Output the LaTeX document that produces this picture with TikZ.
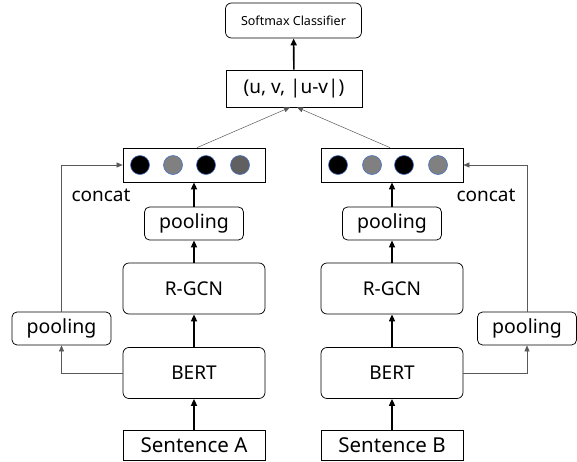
\documentclass[tikz,border=0pt]{standalone}
\usepackage{fontspec}
\setmainfont{Noto Sans}
\usetikzlibrary{arrows.meta}
\definecolor{dotgray}{HTML}{808080}
\definecolor{dotdark}{HTML}{606060}
\definecolor{dotrim}{HTML}{4472C4}
\definecolor{linegray}{HTML}{595959}
\begin{document}
\begin{tikzpicture}[x=1pt,y=-1pt,
    block/.style={draw, line width=0.75pt, rounded corners=6pt, minimum width=142pt, minimum height=51pt, inner sep=0pt, font=\fontsize{19}{22}\selectfont},
    poolbox/.style={draw, line width=0.75pt, rounded corners=5pt, minimum width=99pt, minimum height=33pt, inner sep=0pt, font=\fontsize{19.5}{22}\selectfont},
    inbox/.style={draw, line width=0.75pt, minimum width=142pt, minimum height=30pt, inner sep=0pt, font=\fontsize{20.5}{24}\selectfont},
    vecbox/.style={draw, line width=0.75pt, minimum width=142pt, minimum height=34pt, inner sep=0pt},
    dot/.style={circle, draw=dotrim, line width=0.6pt, minimum size=19pt, inner sep=0pt},
    bigarrow/.style={-{Triangle[length=7pt,width=6pt]}, line width=1.6pt},
    thinarrow/.style={-{Triangle[length=6pt,width=5pt]}, line width=0.5pt, linegray}
]
    \useasboundingbox (0,0) rectangle (577,461);

    % Top of the network
    \node[draw, line width=0.75pt, rounded corners=6pt, minimum width=136pt, minimum height=35pt, font=\fontsize{12.5}{15}\selectfont] (softmax) at (293.5,20.5) {Softmax Classifier};
    \node[draw, line width=0.75pt, minimum width=136pt, minimum height=37pt, font=\fontsize{19}{22}\selectfont] (uv) at (294,88.5) {(u, v, |u-v|)};

    % Two branches
    \foreach \s/\x/\side/\sx/\cx in {A/194/west/61.5/101, B/392/east/527/486} {
        \node[vecbox] (vec\s) at (\x,165) {};
        \node[poolbox] (pool\s) at (\x,223.5) {pooling};
        \node[block] (rgcn\s) at (\x,288.5) {R-GCN};
        \node[block] (bert\s) at (\x,373) {BERT};
        \node[inbox] (sent\s) at (\x,445) {Sentence \s};
        \node[poolbox] (side\s) at (\sx,328.5) {pooling};
        \node[font=\fontsize{19}{22}\selectfont] (concat\s) at (\cx,195) {concat};

        \draw[bigarrow] (sent\s) -- (bert\s);
        \draw[bigarrow] (bert\s) -- (rgcn\s);
        \draw[bigarrow] (rgcn\s) -- (pool\s);
        \draw[bigarrow] (pool\s) -- (vec\s);

        \draw[thinarrow] (bert\s.\side) -| (side\s.south);
        \draw[thinarrow] (side\s.north) |- (vec\s.\side);
    }

    % Vector entries
    \foreach \s/\x/\c in {A/140/black, A/173/dotgray, A/206/black, A/240/dotdark,
                         B/338/black, B/372/dotgray, B/404/black, B/438/dotgray} {
        \node[dot, fill=\c] at (\x,165) {};
    }

    % Merge and classify
    \draw[thinarrow] ([xshift=3pt]vecA.north) -- ([xshift=-4pt]uv.south);
    \draw[thinarrow] ([xshift=-2pt]vecB.north) -- ([xshift=3pt]uv.south);
    \draw[bigarrow] (uv) -- (softmax);
\end{tikzpicture}
\end{document}
